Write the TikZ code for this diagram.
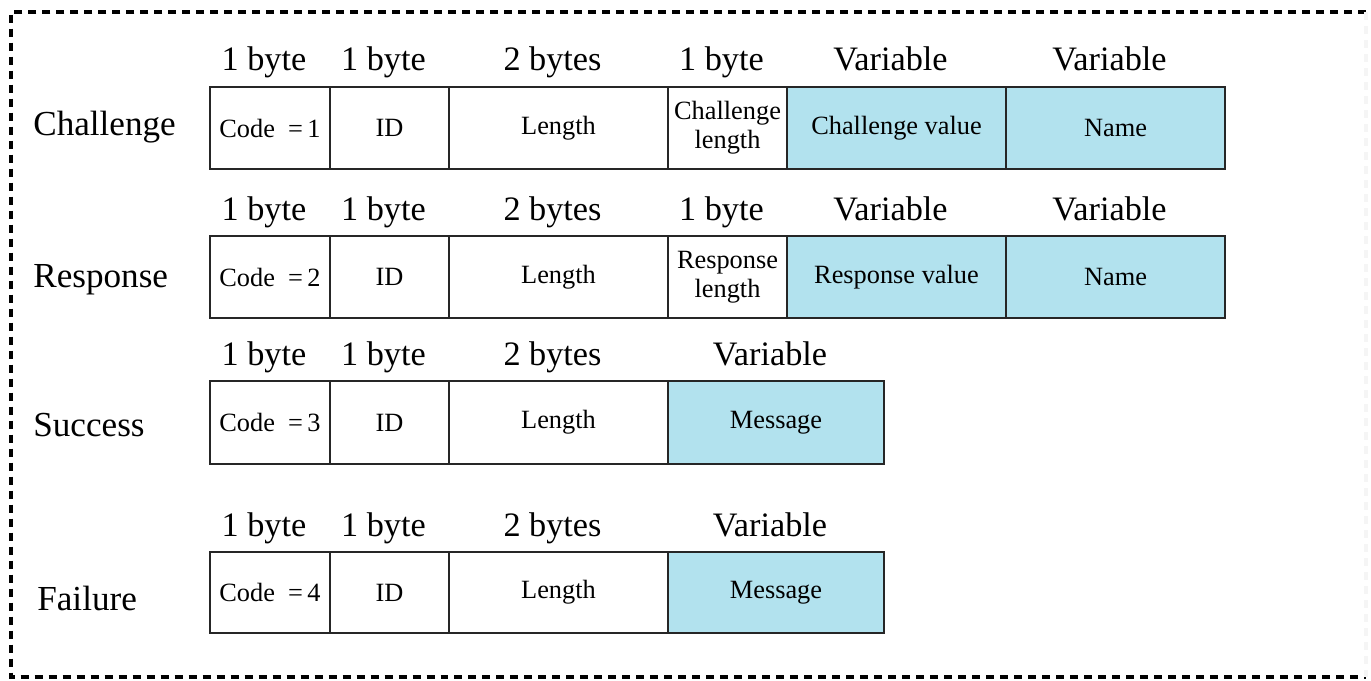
\documentclass[tikz,border=0pt]{standalone}
\usepackage{fontspec}
\setmainfont{Liberation Serif}
\definecolor{fieldblue}{RGB}{178,226,238}
\tikzstyle{field}=[draw=black!85,line width=1.1pt,inner sep=0pt,align=center,
                   font=\fontsize{15}{16.5}\selectfont]
\tikzstyle{sizelabel}=[anchor=base,inner sep=0pt,font=\fontsize{19.5}{21}\selectfont]
\tikzstyle{msgname}=[anchor=west,inner sep=0pt,font=\fontsize{20}{22}\selectfont]
\tikzstyle{outerframe}=[line width=2pt,dash pattern=on 0.16cm off 0.12cm]

\begin{document}
\begin{tikzpicture}[x=0.02cm,y=-0.02cm]
  \useasboundingbox (0,0) rectangle (1371,680);

    \draw[outerframe] (1366,12) -- (11,12) -- (11,677) -- (1366,677); % dashed border
    \draw[outerframe,black!4] (1366,12) -- (1366,677); % faint right side

    % Challenge packet
    \node[msgname] (challenge) at (33,127) {Challenge};
    \foreach \xa/\xb/\fillc/\head/\txt [count=\i] in {
        210/330/white/1 byte/{Code\enspace=\,1}, 330/449/white/1 byte/ID,
        449/668/white/2 bytes/Length, 668/787/white/1 byte/{Challenge\\length},
        787/1006/fieldblue/Variable/{Challenge value}, 1006/1225/fieldblue/Variable/Name}{
      \node[field,fill=\fillc,minimum width=(\xb-\xa)*0.02cm,minimum height=1.64cm]
        (chal\i) at ({(\xa+\xb)/2},128) {\txt};
      \node[sizelabel] (chalsize\i) at ({(\xa+\xb)/2-6},70) {\head};
    }

    % Response packet
    \node[msgname] (response) at (33,280) {Response};
    \foreach \xa/\xb/\fillc/\head/\txt [count=\i] in {
        210/330/white/1 byte/{Code\enspace=\,2}, 330/449/white/1 byte/ID,
        449/668/white/2 bytes/Length, 668/787/white/1 byte/{Response\\length},
        787/1006/fieldblue/Variable/{Response value}, 1006/1225/fieldblue/Variable/Name}{
      \node[field,fill=\fillc,minimum width=(\xb-\xa)*0.02cm,minimum height=1.64cm]
        (resp\i) at ({(\xa+\xb)/2},277) {\txt};
      \node[sizelabel] (respsize\i) at ({(\xa+\xb)/2-6},220) {\head};
    }

    % Success packet
    \node[msgname] (success) at (33,425) {Success};
    \foreach \xa/\xb/\fillc/\head/\txt [count=\i] in {
        210/330/white/1 byte/{Code\enspace=\,3}, 330/449/white/1 byte/ID,
        449/668/white/2 bytes/Length, 668/884/fieldblue/Variable/Message}{
      \node[field,fill=\fillc,minimum width=(\xb-\xa)*0.02cm,minimum height=1.66cm]
        (succ\i) at ({(\xa+\xb)/2},422.5) {\txt};
      \node[sizelabel] (succsize\i) at ({(\xa+\xb)/2-6},365) {\head};
    }

    % Failure packet
    \node[msgname] (failure) at (37,598) {Failure};
    \foreach \xa/\xb/\fillc/\head/\txt [count=\i] in {
        210/330/white/1 byte/{Code\enspace=\,4}, 330/449/white/1 byte/ID,
        449/668/white/2 bytes/Length, 668/884/fieldblue/Variable/Message}{
      \node[field,fill=\fillc,minimum width=(\xb-\xa)*0.02cm,minimum height=1.62cm]
        (fail\i) at ({(\xa+\xb)/2},592.5) {\txt};
      \node[sizelabel] (failsize\i) at ({(\xa+\xb)/2-6},536) {\head};
    }

\end{tikzpicture}
\end{document}
